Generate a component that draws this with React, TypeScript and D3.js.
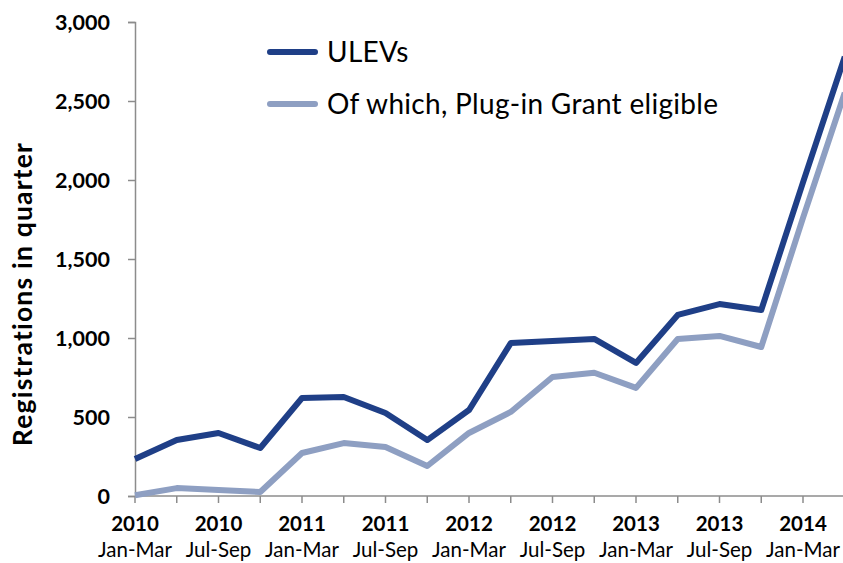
import React, { useEffect, useRef } from 'react';
import * as d3 from 'd3';

// quarters, 2010 Jan-Mar .. 2014 Apr-Jun (last one runs off the right edge)
const quarterYears = ['2010', '2010', '2010', '2010', '2011', '2011', '2011', '2011', '2012', '2012', '2012', '2012', '2013', '2013', '2013', '2013', '2014', '2014'];
const quarterNames = ['Jan-Mar', 'Apr-Jun', 'Jul-Sep', 'Oct-Dec', 'Jan-Mar', 'Apr-Jun', 'Jul-Sep', 'Oct-Dec', 'Jan-Mar', 'Apr-Jun', 'Jul-Sep', 'Oct-Dec', 'Jan-Mar', 'Apr-Jun', 'Jul-Sep', 'Oct-Dec', 'Jan-Mar', 'Apr-Jun'];

const ulevs = [234, 354, 399, 304, 620, 627, 525, 354, 544, 968, 981, 994, 842, 1146, 1215, 1177, 1985, 2780];
const grantEligible = [5, 50, 38, 25, 272, 335, 310, 190, 399, 532, 753, 780, 684, 994, 1013, 943, 1760, 2552];

const yTicks = [0, 500, 1000, 1500, 2000, 2500, 3000];

const seriesNames = ['ULEVs', 'Of which, Plug-in Grant eligible'];
const seriesColors = ['#1f3f87', '#8e9fc2'];

const W = 843;
const H = 563;
const FONT = "Lato, 'Open Sans', sans-serif";

const App: React.FC = () => {
  const svgRef = useRef<SVGSVGElement>(null);

  useEffect(() => {
    if (!svgRef.current) return;
    const svg = d3.select(svgRef.current);
    svg.selectAll('*').remove();

    // ticks sit on the categories; 2014 Jan-Mar is index 16
    const x = d3.scaleLinear().domain([0, 16]).range([135, 803]);
    const y = d3.scaleLinear().domain([0, 3000]).range([496, 22]);
    const axisColor = '#8c8c8c';

    // y axis
    const yAxis = svg.append('g').attr('transform', `translate(${x(0)},0)`)
      .call(d3.axisLeft(y).tickValues(yTicks).tickSize(7).tickFormat(d3.format(',') as any));
    yAxis.select('.domain').attr('stroke', axisColor).attr('stroke-width', 1.5);
    yAxis.selectAll('.tick line').attr('stroke', axisColor).attr('stroke-width', 1.5);
    yAxis.selectAll('.tick text')
      .attr('x', -25)
      .attr('dy', '0.36em')
      .style('font-family', FONT)
      .style('font-size', '21.5px')
      .style('font-weight', 700)
      .attr('fill', '#000');

    // x axis
    const xAxis = svg.append('g').attr('transform', `translate(0,${y(0)})`);
    xAxis.append('line')
      .attr('x1', x(0)).attr('x2', W)
      .attr('stroke', axisColor).attr('stroke-width', 1.5);
    const idx = d3.range(quarterNames.length);
    xAxis.selectAll('line.tick').data(idx).join('line')
      .attr('class', 'tick')
      .attr('x1', d => x(d)).attr('x2', d => x(d))
      .attr('y1', 0).attr('y2', 7)
      .attr('stroke', axisColor).attr('stroke-width', 1.5);

    const labelIdx = idx.filter(i => i % 2 === 0 && i <= 16);
    const xl = xAxis.selectAll('g.lbl').data(labelIdx).join('g')
      .attr('class', 'lbl')
      .attr('transform', d => `translate(${x(d)},0)`);
    xl.append('text')
      .attr('y', 35)
      .attr('text-anchor', 'middle')
      .style('font-family', FONT)
      .style('font-size', '20.5px')
      .style('font-weight', 700)
      .text(d => quarterYears[d]);
    xl.append('text')
      .attr('y', 61)
      .attr('text-anchor', 'middle')
      .style('font-family', FONT)
      .style('font-size', '20.5px')
      .text(d => quarterNames[d]);

    // y title
    svg.append('text')
      .attr('transform', 'translate(32,294) rotate(-90)')
      .attr('text-anchor', 'middle')
      .style('font-family', FONT)
      .style('font-size', '26.5px')
      .style('font-weight', 700)
      .style('letter-spacing', '1.2px')
      .text('Registrations in quarter');

    // lines
    const line = d3.line<number>()
      .x((_, i) => x(i))
      .y(d => y(d));

    [grantEligible, ulevs].forEach((vals, k) => {
      const color = k === 0 ? seriesColors[1] : seriesColors[0];
      svg.append('path')
        .datum(vals)
        .attr('fill', 'none')
        .attr('stroke', color)
        .attr('stroke-width', 6)
        .attr('stroke-linejoin', 'round')
        .attr('d', line);
    });

    // legend
    const legend = svg.append('g');
    seriesNames.forEach((name, k) => {
      const ly = 52 + k * 52;
      legend.append('line')
        .attr('x1', 270).attr('x2', 315)
        .attr('y1', ly).attr('y2', ly)
        .attr('stroke', seriesColors[k])
        .attr('stroke-width', 6)
        .attr('stroke-linecap', 'round');
      legend.append('text')
        .attr('x', 327).attr('y', ly)
        .attr('dy', '0.36em')
        .style('font-family', FONT)
        .style('font-size', '28px')
        .style('letter-spacing', '0.3px')
        .text(name);
    });
  }, []);

  return (
    <div style={{ position: 'absolute', left: 0, top: 0 }}>
      <svg ref={svgRef} width={W} height={H} style={{ display: 'block', background: '#fff' }} />
    </div>
  );
};

export default App;
